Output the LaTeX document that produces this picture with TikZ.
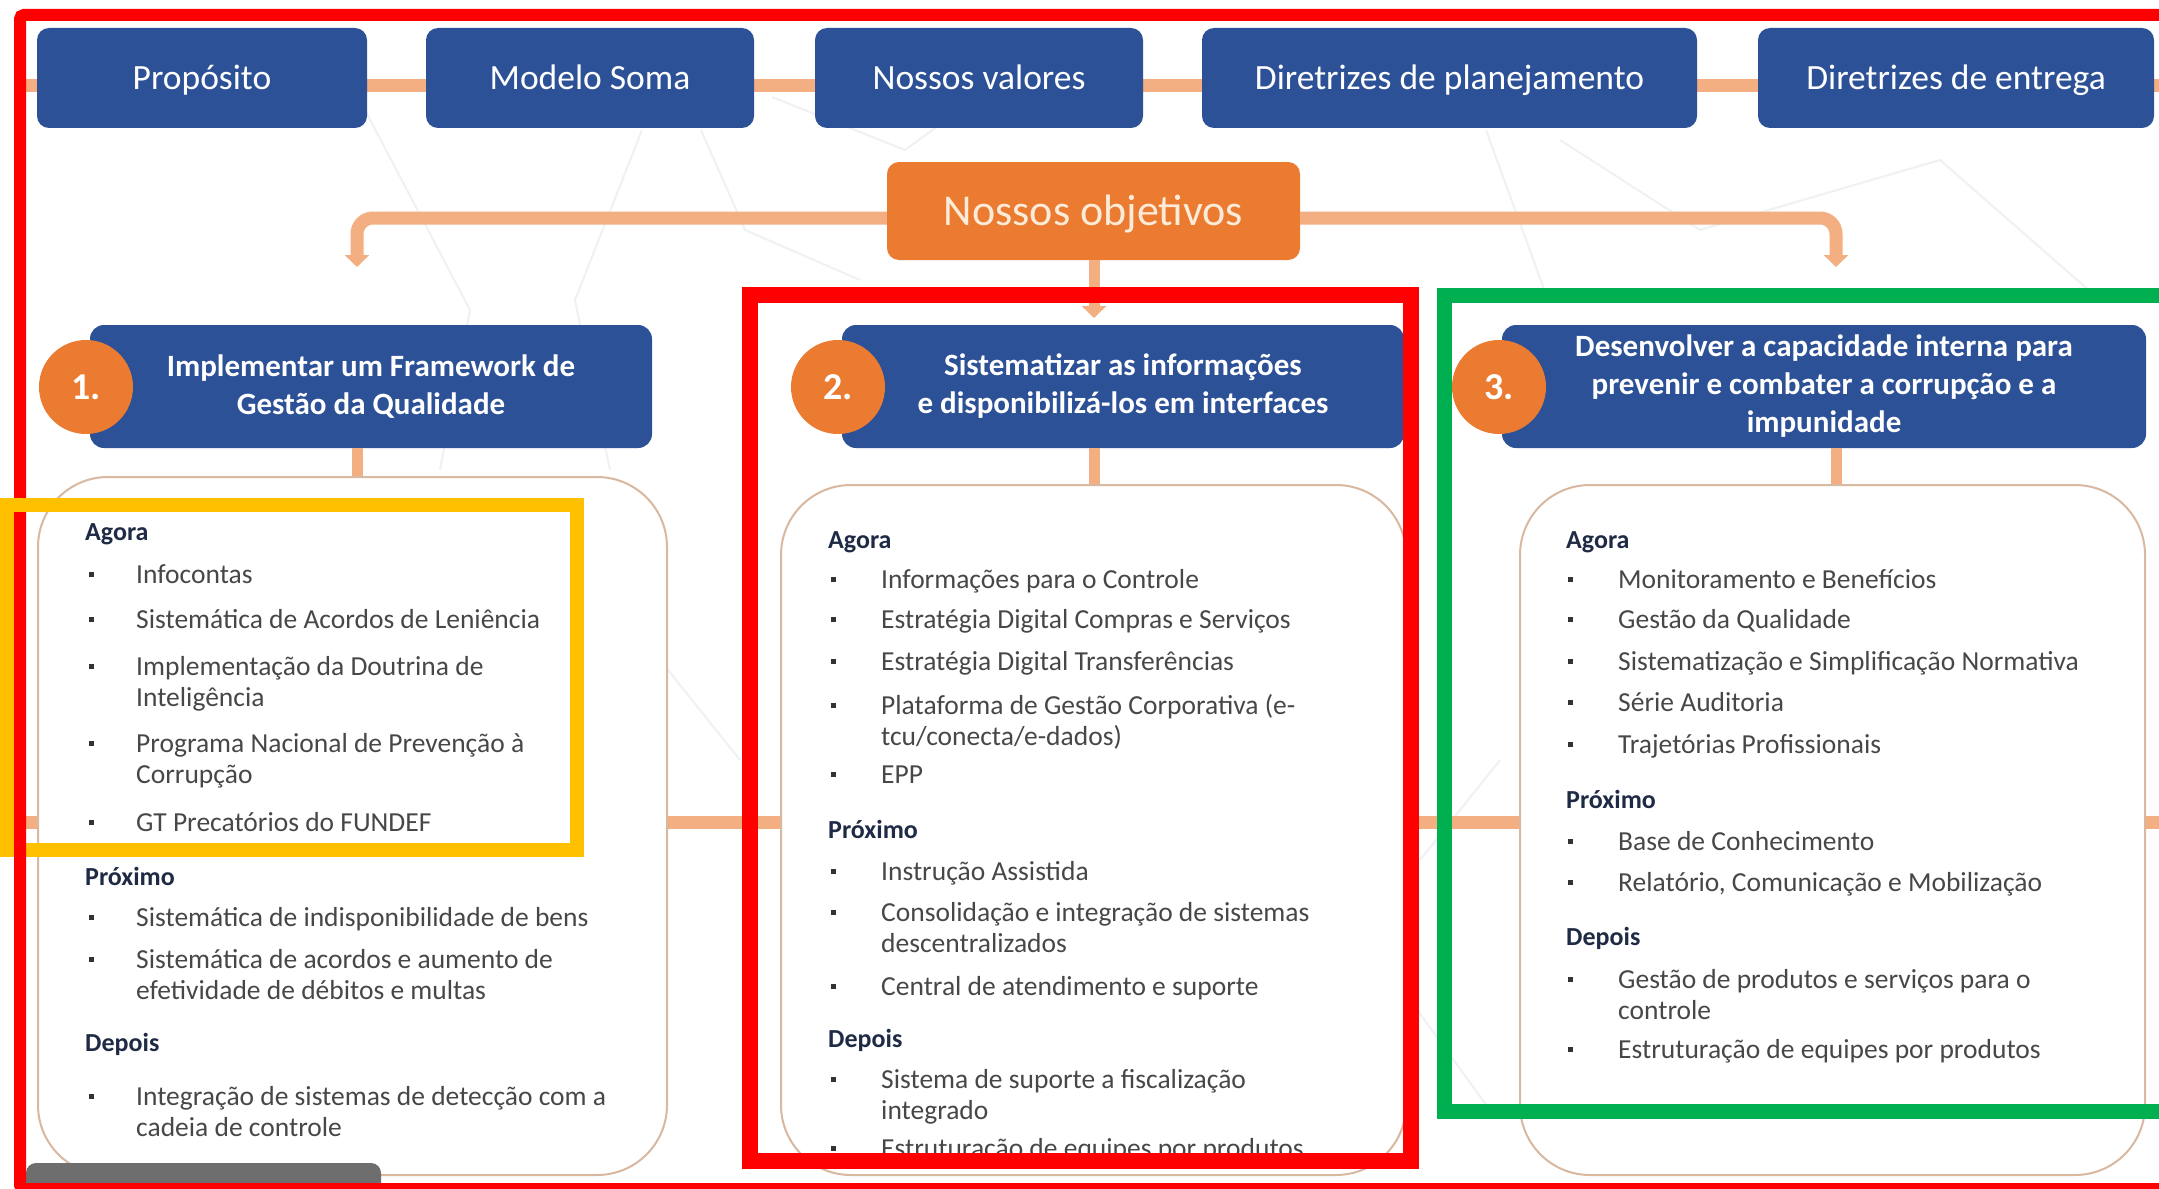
\documentclass[tikz,border=0pt]{standalone}
\usepackage{fontspec}
\setmainfont{Carlito}
\usetikzlibrary{arrows.meta}
\definecolor{tblue}{HTML}{2D5196}
\definecolor{torange}{HTML}{EB7B30}
\definecolor{tpeach}{HTML}{F3AE82}
\definecolor{ttan}{HTML}{D9B8A0}
\definecolor{tnavy}{HTML}{1F2B45}
\definecolor{tgray}{HTML}{474747}
\definecolor{tbul}{HTML}{333333}
\definecolor{tcream}{HTML}{FDEBD9}
\definecolor{annred}{HTML}{FF0000}
\definecolor{anngreen}{HTML}{00B050}
\definecolor{annyellow}{HTML}{FFC000}
\definecolor{barg}{HTML}{6E6E6E}
\definecolor{bgl}{HTML}{F0F1F4}
\newcommand\twol[2]{\vtop{\hbox{#1}\hbox{#2}}}
\newcommand\itm[5]{%
  \fill[tbul] ({#2-2.5},{#4-11.5}) rectangle ++(5,5);
  \node[itemtxt, anchor=base west] (#1) at (#3,#4) {#5};
}
\tikzset{
  pline/.style={draw=tpeach, line width=13pt},
  bgline/.style={draw=bgl, line width=2pt},
  topbox/.style={fill=tblue, rounded corners=12pt, text=white, inner sep=0pt,
    font=\fontsize{35.5}{40}\selectfont, minimum height=100pt, text height=25pt, text depth=1pt},
  objbox/.style={fill=torange, rounded corners=12pt, text=tcream, inner sep=0pt,
    font=\fontsize{44}{50}\selectfont, text height=31pt, text depth=3pt},
  hdrbox/.style={fill=tblue, rounded corners=14pt, text=white, inner sep=0pt, align=center,
    font=\bfseries\fontsize{31}{38}\selectfont, minimum height=123pt},
  numc/.style={circle, fill=torange, minimum size=94pt, inner sep=0pt, text=white,
    font=\bfseries\fontsize{38}{44}\selectfont},
  cardbox/.style={draw=ttan, line width=2pt, fill=white, rounded corners=70pt, inner sep=0pt},
  itemtxt/.style={inner sep=0pt, text=tgray, font=\fontsize{27.5}{31}\selectfont},
  headtxt/.style={inner sep=0pt, text=tnavy, anchor=base west, font=\bfseries\fontsize{26}{31}\selectfont},
  arr/.style={-{Triangle[width=24pt,length=12pt]}},
  ann/.style={line width=#1},
}
\begin{document}
\begin{tikzpicture}[x=1pt,y=-1pt]
\useasboundingbox (0,0) rectangle (2159,1188);
\clip (0,0) rectangle (2159,1188);
\fill[white] (0,0) rectangle (2159,1188);
% faint background network
\draw[bgline] (365,110) -- (470,310) -- (440,470);
\draw[bgline] (642,130) -- (575,300) -- (610,470);
\draw[bgline] (701,130) -- (745,230) -- (860,280);
\draw[bgline] (772,97) -- (905,150) -- (960,110);
\draw[bgline] (1486,130) -- (1548,300);
\draw[bgline] (1560,140) -- (1700,230) -- (1940,160);
\draw[bgline] (1940,160) -- (2100,300);
\draw[bgline] (660,660) -- (740,760);
\draw[bgline] (1420,860) -- (1500,760);
\draw[bgline] (1410,1000) -- (1490,1110);
% connector lines behind boxes
\coordinate (tl) at (26,86); \coordinate (tr) at (2159,86);
\coordinate (ml) at (26,822); \coordinate (mr) at (2159,822);
\draw[pline] (tl) -- (tr);
\draw[pline] (ml) -- (mr);
% top row
\node[topbox, minimum width=330pt] (b1) at (202,78) {Propósito};
\node[topbox, minimum width=328pt] (b2) at (590,78) {Modelo Soma};
\node[topbox, minimum width=328pt] (b3) at (979,78) {Nossos valores};
\node[topbox, minimum width=495pt] (b4) at (1449.5,78) {Diretrizes de planejamento};
\node[topbox, minimum width=396pt] (b5) at (1956,78) {Diretrizes de entrega};
% objectives
\node[objbox, minimum width=413pt, minimum height=98pt] (obj) at (1093.5,211) {Nossos objetivos};
\coordinate (a1) at (357,267);
\coordinate (a2) at (1094,318);
\coordinate (a3) at (1836,267);
\draw[pline, arr, rounded corners=16pt] ([yshift=-7pt]obj.west) -- (a1 |- 0,218) -- (a1);
\draw[pline, arr, rounded corners=16pt] ([yshift=-7pt]obj.east) -- (a3 |- 0,218) -- (a3);
\draw[pline, arr, line width=11pt] (obj.south -| a2) -- (a2);
% cards
\node[cardbox, minimum width=629pt, minimum height=698pt] (card1) at (352.5,826) {};
\node[cardbox, minimum width=625pt, minimum height=690pt] (card2) at (1093.5,830) {};
\node[cardbox, minimum width=625pt, minimum height=690pt] (card3) at (1832.5,830) {};
% headers
\node[hdrbox, minimum width=562pt] (h1) at (371,386.5) {Implementar um Framework de\\Gestão da Qualidade};
\node[hdrbox, minimum width=562pt] (h2) at (1123,386.5) {Sistematizar as informações\\e disponibilizá-los em interfaces};
\node[hdrbox, minimum width=644pt] (h3) at (1824,386.5) {Desenvolver a capacidade interna para\\prevenir e combater a corrupção e a\\impunidade};
\node[numc] (n1) at (86,387) {1.};
\node[numc] (n2) at (838,387) {2.};
\node[numc] (n3) at (1499,387) {3.};
\draw[pline, line width=11pt] (h1.south -| a1) -- (card1.north -| a1);
\draw[pline, line width=11pt] (h2.south -| a2) -- (card2.north -| a2);
\draw[pline, line width=11pt] (h3.south -| a3) -- (card3.north -| a3);
% card 1
\node[headtxt] (hA1) at (85,540) {Agora};
\itm{i11}{91}{136}{583}{Infocontas}
\itm{i12}{91}{136}{628}{Sistemática de Acordos de Leniência}
\itm{i13}{91}{136}{675}{\twol{Implementação da Doutrina de}{Inteligência}}
\itm{i14}{91}{136}{752}{\twol{Programa Nacional de Prevenção à}{Corrupção}}
\itm{i15}{91}{136}{831}{GT Precatórios do FUNDEF}
\node[headtxt] (hP1) at (85,885) {Próximo};
\itm{i16}{91}{136}{926}{Sistemática de indisponibilidade de bens}
\itm{i17}{91}{136}{968}{\twol{Sistemática de acordos e aumento de}{efetividade de débitos e multas}}
\node[headtxt] (hD1) at (85,1051) {Depois};
\itm{i18}{91}{136}{1105}{\twol{Integração de sistemas de detecção com a}{cadeia de controle}}
% card 2
\node[headtxt] (hA2) at (828,548) {Agora};
\itm{i21}{833}{881}{588}{Informações para o Controle}
\itm{i22}{833}{881}{628}{Estratégia Digital Compras e Serviços}
\itm{i23}{833}{881}{670}{Estratégia Digital Transferências}
\itm{i24}{833}{881}{714}{\twol{Plataforma de Gestão Corporativa (e-}{tcu/conecta/e-dados)}}
\itm{i25}{833}{881}{783}{EPP}
\node[headtxt] (hP2) at (828,838) {Próximo};
\itm{i26}{833}{881}{880}{Instrução Assistida}
\itm{i27}{833}{881}{921}{\twol{Consolidação e integração de sistemas}{descentralizados}}
\itm{i28}{833}{881}{995}{Central de atendimento e suporte}
\node[headtxt] (hD2) at (828,1047) {Depois};
\itm{i29}{833}{881}{1088}{\twol{Sistema de suporte a fiscalização}{integrado}}
\itm{i2a}{833}{881}{1157}{Estruturação de equipes por produtos}
% card 3
\node[headtxt] (hA3) at (1566,548) {Agora};
\itm{i31}{1570}{1618}{588}{Monitoramento e Benefícios}
\itm{i32}{1570}{1618}{628}{Gestão da Qualidade}
\itm{i33}{1570}{1618}{670}{Sistematização e Simplificação Normativa}
\itm{i34}{1570}{1618}{711}{Série Auditoria}
\itm{i35}{1570}{1618}{753}{Trajetórias Profissionais}
\node[headtxt] (hP3) at (1566,808) {Próximo};
\itm{i36}{1570}{1618}{850}{Base de Conhecimento}
\itm{i37}{1570}{1618}{891}{Relatório, Comunicação e Mobilização}
\node[headtxt] (hD3) at (1566,945) {Depois};
\itm{i38}{1570}{1618}{988}{\twol{Gestão de produtos e serviços para o}{controle}}
\itm{i39}{1570}{1618}{1058}{Estruturação de equipes por produtos}
% grey bar
\fill[barg, rounded corners=10pt] (26,1163) rectangle (381,1200);
% annotation frames
\draw[annyellow, ann=14pt] (7,505) rectangle (577,850);
\draw[annred, ann=12pt, rounded corners=4pt] (20,15) rectangle (2175,1189);
\draw[annyellow, ann=14pt] (0,505) -- (584,505);
\draw[annred, ann=16pt] (750,295) rectangle (1411,1161);
\draw[anngreen, ann=15pt] (1444,295) rectangle (2175,1111);
\end{tikzpicture}
\end{document}
